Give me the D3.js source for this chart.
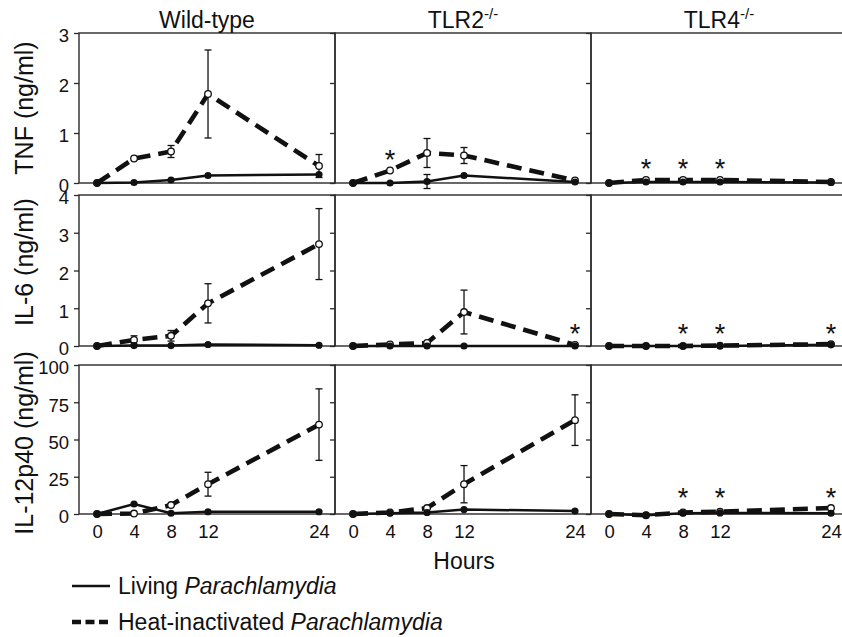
<!DOCTYPE html>
<html><head><meta charset="utf-8">
<script src="https://cdn.jsdelivr.net/npm/d3@7"></script>
<style>body{margin:0;background:#fff}svg{display:block}text{font-family:"Liberation Sans",Arial,sans-serif;fill:#111}</style>
</head><body>
<script>
// ---- data ----
const hours = [0, 4, 8, 12, 24];
const xTicks = [0, 4, 8, 12, 24];
const genotypes = ["Wild-type", "TLR2", "TLR4"];
const cytokineLabels = ["TNF (ng/ml)", "IL-6 (ng/ml)", "IL-12p40 (ng/ml)"];
const yMax = [3, 4, 100];
const yTicks = [[0, 1, 2, 3], [0, 1, 2, 3, 4], [0, 25, 50, 75, 100]];

// TNF  (rows of arrays: Wild-type, TLR2-/-, TLR4-/-)
const tnfLiving    = [[0, 0.01, 0.06, 0.15, 0.17], [0, 0.00, 0.03, 0.15, 0.02], [0, 0.02, 0.02, 0.02, 0.01]];
const tnfLivingErr = [[0, 0.01, 0.02, 0.03, 0.06], [0, 0.01, 0.14, 0.05, 0.03], [0, 0.01, 0.01, 0.01, 0.00]];
const tnfHeat      = [[0, 0.49, 0.63, 1.78, 0.34], [0, 0.25, 0.60, 0.55, 0.05], [0, 0.06, 0.06, 0.06, 0.02]];
const tnfHeatErr   = [[0, 0.03, 0.12, 0.88, 0.23], [0, 0.04, 0.29, 0.16, 0.06], [0, 0.02, 0.02, 0.02, 0.00]];
// IL-6
const il6Living    = [[0, 0.01, 0.01, 0.04, 0.02], [0, 0.00, 0.00, 0.00, 0.00], [0, 0.00, 0.00, 0.00, 0.03]];
const il6LivingErr = [[0, 0.00, 0.00, 0.01, 0.01], [0, 0.00, 0.00, 0.00, 0.00], [0, 0.00, 0.00, 0.00, 0.01]];
const il6Heat      = [[0, 0.16, 0.27, 1.13, 2.70], [0, 0.04, 0.08, 0.90, 0.03], [0, 0.00, 0.00, 0.01, 0.05]];
const il6HeatErr   = [[0, 0.11, 0.14, 0.52, 0.94], [0, 0.02, 0.03, 0.58, 0.05], [0, 0.00, 0.00, 0.00, 0.01]];
// IL-12p40
const il12Living    = [[0, 6.7, 0.5, 1.5, 1.5], [0, 0.5, 1.0, 3.0, 2.0], [0, -0.8, 0.5, 0.7, 0.5]];
const il12LivingErr = [[0, 0.5, 0.2, 0.3, 0.3], [0, 0.2, 0.5, 1.5, 0.5], [0, 0.0, 0.0, 0.0, 0.0]];
const il12Heat      = [[0, 0.3, 6.0, 20.0, 60.0], [0, 1.0, 4.0, 20.0, 63.0], [0, -0.8, 1.0, 1.5, 4.0]];
const il12HeatErr   = [[0, 0.2, 1.0, 8.0, 24.0], [0, 0.5, 1.0, 12.5, 17.0], [0, 0.0, 0.0, 0.2, 0.5]];

// significance asterisks (hours) and their height (data units) per panel
const tnfStars  = [[], [4], [4, 8, 12]];
const il6Stars  = [[], [24], [8, 12, 24]];
const il12Stars = [[], [], [8, 12, 24]];
const tnfStarLevel  = [0, 0.58, 0.40];
const il6StarLevel  = [0, 0.50, 0.50];
const il12StarLevel = [0, 15, 15];

const rowsData = [
  {living: tnfLiving, livingErr: tnfLivingErr, heat: tnfHeat, heatErr: tnfHeatErr, stars: tnfStars, starLevel: tnfStarLevel},
  {living: il6Living, livingErr: il6LivingErr, heat: il6Heat, heatErr: il6HeatErr, stars: il6Stars, starLevel: il6StarLevel},
  {living: il12Living, livingErr: il12LivingErr, heat: il12Heat, heatErr: il12HeatErr, stars: il12Stars, starLevel: il12StarLevel}
];

// ---- layout ----
const W = 842, H = 637;
const colX = [79, 335, 591], colW = 256;
const rowY = [33, 195, 365], rowH = [150, 151, 149];
const yLabelCY = [108, 262, 443];
const ink = "#111", frameInk = "#2a2a2a";
const FONT = "Liberation Sans, Arial, sans-serif";

const svg = d3.select("body").append("svg").attr("width", W).attr("height", H);
const x = d3.scaleLinear().domain([-1.95, 25.73]).range([0, colW]);

rowsData.forEach((rd, r) => {
  const y = d3.scaleLinear().domain([0, yMax[r]]).range([rowH[r], 0]);
  genotypes.forEach((gname, c) => {
    const g = svg.append("g").attr("transform", `translate(${colX[c]},${rowY[r]})`);
    g.append("rect").attr("x", 0).attr("y", 0).attr("width", colW).attr("height", rowH[r])
      .attr("fill", "none").attr("stroke", frameInk).attr("stroke-width", 1.4);

    const ax = g.append("g").call(d3.axisLeft(y).tickValues(yTicks[r]).tickSize(5).tickPadding(5)
      .tickFormat(c === 0 ? d3.format("d") : () => ""));
    ax.select(".domain").remove();
    ax.selectAll("line").attr("stroke", frameInk).attr("stroke-width", 1.3);
    ax.selectAll("text").attr("font-size", 18.5).attr("font-family", FONT).attr("fill", ink)
      .attr("dy", "0.32em").attr("y", 3);

    if (r === 2) {
      const bx = g.append("g").attr("transform", `translate(0,${rowH[r]})`)
        .call(d3.axisBottom(x).tickValues(xTicks).tickSize(0).tickPadding(11).tickFormat(d3.format("d")));
      bx.select(".domain").remove();
      bx.selectAll("text").attr("font-size", 18.5).attr("font-family", FONT).attr("fill", ink);
    }

    const liv = hours.map((h, i) => ({h, v: rd.living[c][i], e: rd.livingErr[c][i]}));
    const hea = hours.map((h, i) => ({h, v: rd.heat[c][i], e: rd.heatErr[c][i]}));
    const line = d3.line().x(d => x(d.h)).y(d => y(d.v));

    g.append("path").datum(liv).attr("d", line).attr("fill", "none").attr("stroke", ink).attr("stroke-width", 2.5);
    g.append("path").datum(hea).attr("d", line).attr("fill", "none").attr("stroke", ink)
      .attr("stroke-width", 4.6).attr("stroke-dasharray", "15,8");

    const errBars = (data) => {
      const eb = g.append("g").selectAll("g").data(data.filter(d => d.e > 0.02 * yMax[r])).join("g");
      eb.append("line").attr("x1", d => x(d.h)).attr("x2", d => x(d.h))
        .attr("y1", d => y(d.v - d.e)).attr("y2", d => y(d.v + d.e)).attr("stroke", ink).attr("stroke-width", 1.3);
      [-1, 1].forEach(s => eb.append("line").attr("x1", d => x(d.h) - 3.5).attr("x2", d => x(d.h) + 3.5)
        .attr("y1", d => y(d.v + s * d.e)).attr("y2", d => y(d.v + s * d.e)).attr("stroke", ink).attr("stroke-width", 1.3));
    };
    errBars(hea);
    errBars(liv);

    g.append("g").selectAll("circle").data(hea).join("circle")
      .attr("cx", d => x(d.h)).attr("cy", d => y(d.v)).attr("r", 3.3)
      .attr("fill", "#fff").attr("stroke", ink).attr("stroke-width", 1.3);
    g.append("g").selectAll("circle").data(liv).join("circle")
      .attr("cx", d => x(d.h)).attr("cy", d => y(d.v)).attr("r", 3.6).attr("fill", ink);

    const fs = 27;
    g.append("g").selectAll("text").data(rd.stars[c]).join("text")
      .attr("x", d => x(d)).attr("y", d => y(rd.starLevel[c]) + fs * 0.57)
      .attr("text-anchor", "middle").attr("font-size", fs).text("*");

    if (r === 0) {
      const t = svg.append("text").attr("x", colX[c] + colW / 2).attr("y", 28)
        .attr("text-anchor", "middle").attr("font-size", 23);
      t.append("tspan").text(gname);
      if (c > 0) t.append("tspan").attr("font-size", 15).attr("dy", -9).text("-/-");
    }
  });
  svg.append("text").attr("transform", `translate(33,${yLabelCY[r]}) rotate(-90)`)
    .attr("text-anchor", "middle").attr("font-size", 25).text(cytokineLabels[r]);
});

// x axis title
svg.append("text").attr("x", 464).attr("y", 569).attr("text-anchor", "middle").attr("font-size", 23).text("Hours");

// legend
const legend = [
  {label: "Living ", dash: null, w: 2.5, y: 594},
  {label: "Heat-inactivated ", dash: "9,4.5", w: 4.6, y: 630}
];
legend.forEach(l => {
  svg.append("line").attr("x1", 72).attr("x2", 110).attr("y1", l.y - 8).attr("y2", l.y - 8)
    .attr("stroke", ink).attr("stroke-width", l.w).attr("stroke-dasharray", l.dash);
  const t = svg.append("text").attr("x", 118).attr("y", l.y).attr("font-size", 23);
  t.append("tspan").text(l.label);
  t.append("tspan").attr("font-style", "italic").text("Parachlamydia");
});
</script>
</body></html>
